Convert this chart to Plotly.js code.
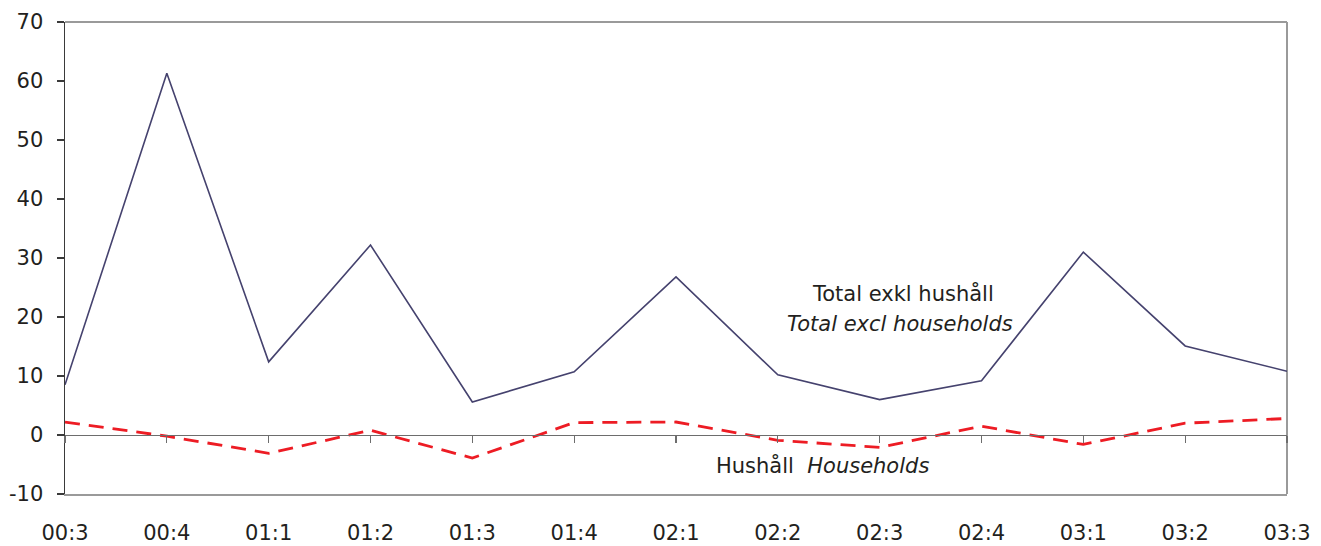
<!DOCTYPE html>
<html>
<head>
<meta charset="utf-8">
<script src="https://cdn.plot.ly/plotly-3.0.1.min.js"></script>
<style>html,body{margin:0;padding:0;background:#fff;}#chart{width:1321px;height:546px;}</style>
</head>
<body>
<div id="chart"></div>
<script>
const quarters = ["00:3","00:4","01:1","01:2","01:3","01:4","02:1","02:2","02:3","02:4","03:1","03:2","03:3"];
const totalExclHouseholds = [8.5, 61.3, 12.4, 32.2, 5.6, 10.7, 26.8, 10.2, 6.0, 9.2, 31.0, 15.1, 10.8];
const households = [2.2, -0.2, -3.1, 0.8, -3.9, 2.1, 2.2, -0.9, -2.1, 1.5, -1.6, 2.0, 2.8];
const yTicks = [-10, 0, 10, 20, 30, 40, 50, 60, 70];

const font = {family: "DejaVu Sans, Verdana, sans-serif", size: 21, color: "#231f20"};

const traces = [
  {x: quarters, y: totalExclHouseholds, type: "scatter", mode: "lines", xaxis: "x", yaxis: "y",
   line: {color: "#45426e", width: 1.6}, hoverinfo: "skip"},
  {x: quarters, y: households, type: "scatter", mode: "lines", xaxis: "x2", yaxis: "y",
   line: {color: "#ed1c24", width: 2.8, dash: "15px,9px"}, hoverinfo: "skip"}
];

const layout = {
  width: 1321, height: 546,
  margin: {l: 65, r: 34, t: 22, b: 52},
  paper_bgcolor: "#fff", plot_bgcolor: "#fff",
  showlegend: false,
  font: font,
  xaxis: {
    type: "category", categoryorder: "array", categoryarray: quarters,
    range: [0, quarters.length - 1],
    showgrid: false, zeroline: false,
    showline: true, linecolor: "#9a9a9a", linewidth: 2,
    ticks: "", ticklabelstandoff: 19,
    tickfont: font
  },
  xaxis2: {
    type: "category", categoryorder: "array", categoryarray: quarters,
    range: [0, quarters.length - 1],
    overlaying: "x", anchor: "free", position: 0.125,
    showgrid: false, zeroline: false,
    showline: true, linecolor: "#6d6d6d", linewidth: 1.2,
    ticks: "outside", ticklen: 7, tickcolor: "#6d6d6d", tickwidth: 1.2,
    showticklabels: false
  },
  yaxis: {
    range: [-10, 70], tickvals: yTicks, ticktext: yTicks.map(String),
    showgrid: false, zeroline: false,
    showline: true, linecolor: "#3a3a3a", linewidth: 1.5,
    ticks: "outside", ticklen: 7, tickcolor: "#3a3a3a", tickwidth: 1.2,
    ticklabelstandoff: 9,
    tickfont: font
  },
  shapes: [
    {type: "line", xref: "paper", yref: "paper", x0: 0, x1: 1, y0: 1, y1: 1, layer: "below",
     line: {color: "#9a9a9a", width: 2}},
    {type: "line", xref: "paper", yref: "paper", x0: 1, x1: 1, y0: 0, y1: 1, layer: "below",
     line: {color: "#9a9a9a", width: 2}}
  ],
  annotations: [
    {xref: "paper", yref: "paper", x: (903 - 65) / 1222, y: (494 - 293) / 472, text: "Total exkl hushåll",
     showarrow: false, font: font, xanchor: "center", yanchor: "middle"},
    {xref: "paper", yref: "paper", x: (900 - 65) / 1222, y: (494 - 324) / 472, text: "<i>Total excl households</i>",
     showarrow: false, font: font, xanchor: "center", yanchor: "middle"},
    {xref: "paper", yref: "paper", x: (822 - 65) / 1222, y: (494 - 465) / 472, text: "Hushåll  <i>Households</i>",
     showarrow: false, font: font, xanchor: "center", yanchor: "middle"}
  ]
};

Plotly.newPlot("chart", traces, layout, {displayModeBar: false, staticPlot: true});
</script>
</body>
</html>
